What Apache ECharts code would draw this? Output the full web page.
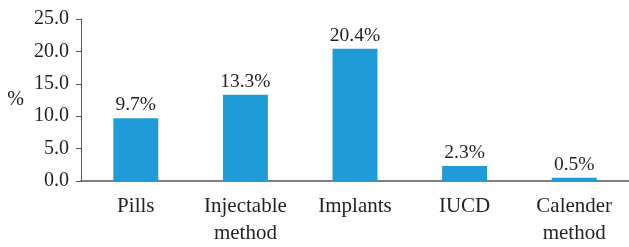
<!DOCTYPE html>
<html>
<head>
<meta charset="utf-8">
<script src="https://cdn.jsdelivr.net/npm/echarts@6/dist/echarts.min.js"></script>
<style>
  html, body { margin: 0; padding: 0; background: #fff; }
  #chart { width: 629px; height: 247px; }
</style>
</head>
<body>
<div id="chart"></div>
<script>
const categories = ["Pills", "Injectable\nmethod", "Implants", "IUCD", "Calender\nmethod"];
const percentValues = [9.7, 13.3, 20.4, 2.3, 0.5];

const fontFamily = "'Liberation Serif', serif";
const textColor = "#231f20";
const axisColor = "#555555";

const chart = echarts.init(document.getElementById("chart"));

chart.setOption({
  animation: false,
  backgroundColor: "#ffffff",
  grid: {
    left: 81,
    top: 19,
    width: 552,
    height: 168,
    containLabel: false,
  },
  xAxis: {
    type: "category",
    data: categories,
    axisLine: { lineStyle: { color: axisColor, width: 1.5 } },
    axisTick: { length: 5, lineStyle: { color: axisColor } },
    axisLabel: {
      color: textColor,
      fontFamily,
      fontSize: 21,
      lineHeight: 27,
      margin: 12,
    },
  },
  yAxis: {
    type: "value",
    min: 0,
    max: 25,
    interval: 5,
    name: "%",
    nameLocation: "middle",
    nameRotate: 0,
    nameGap: 57,
    nameTextStyle: { color: textColor, fontFamily, fontSize: 20, padding: [6, 0, 0, 0] },
    axisLine: { show: true, lineStyle: { color: axisColor } },
    axisTick: { show: true, length: 5, lineStyle: { color: axisColor } },
    splitLine: { show: false },
    axisLabel: {
      color: textColor,
      fontFamily,
      fontSize: 20,
      margin: 12,
      formatter: (value) => value.toFixed(1),
    },
  },
  series: [
    {
      type: "bar",
      data: percentValues,
      barWidth: "41%",
      itemStyle: { color: "#1f9bd7" },
      label: {
        show: true,
        position: "top",
        distance: 3,
        color: textColor,
        fontFamily,
        fontSize: 19.5,
        formatter: (params) => `${params.value.toFixed(1)}%`,
      },
    },
  ],
});
</script>
</body>
</html>
